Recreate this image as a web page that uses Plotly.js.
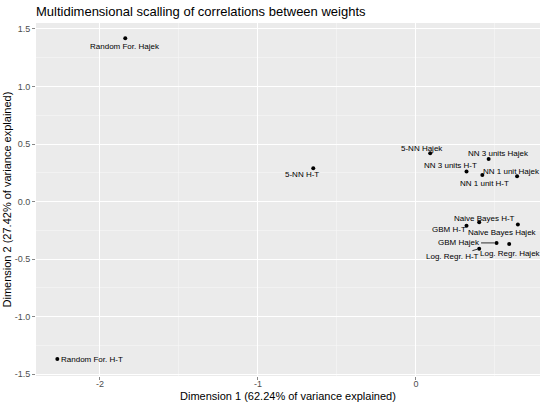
<!DOCTYPE html>
<html><head><meta charset="utf-8">
<script src="https://cdn.plot.ly/plotly-3.0.1.min.js"></script>
<style>html,body{margin:0;padding:0;background:#fff}#chart{width:550px;height:407px}</style>
</head><body><div id="chart"></div>
<script>
var labels = ["Random For. Hajek","Random For. H-T","5-NN H-T","5-NN Hajek","NN 3 units Hajek","NN 3 units H-T","NN 1 unit Hajek","NN 1 unit H-T","Naive Bayes H-T","GBM H-T","Naive Bayes Hajek","GBM Hajek","Log. Regr. Hajek","Log. Regr. H-T"];
var dim1 = [-1.84,-2.27,-0.65,0.09,0.46,0.32,0.64,0.42,0.40,0.32,0.645,0.51,0.59,0.40];
var dim2 = [1.42,-1.37,0.29,0.42,0.37,0.26,0.22,0.23,-0.18,-0.21,-0.20,-0.36,-0.37,-0.41];
var xTicks = [-2,-1,0];
var yTicks = [-1.5,-1.0,-0.5,0.0,0.5,1.0,1.5];
var xTitle = 'Dimension 1 (62.24% of variance explained)';
var yTitle = 'Dimension 2 (27.42% of variance explained)';

// label placement (pixel offsets, style only)
var place = [
  {dx:0,dy:-8},{dx:2,dy:0,anchor:'left'},{dx:-11,dy:-6},{dx:-8,dy:5},
  {dx:10,dy:5},{dx:-16,dy:6},{dx:-6,dy:5},{dx:2,dy:-8},
  {dx:5,dy:4},{dx:-18,dy:-4},{dx:-15,dy:-8},{dx:-38,dy:0,arrow:true},
  {dx:1,dy:-9},{dx:-27,dy:-8,arrow:true}
];
var fam = 'Liberation Sans, Arial, sans-serif';
var lblFont = {family:fam, size:8, color:'#000'};
var annotations = labels.map(function(t,i){
  var p = place[i];
  var a = {x:dim1[i], y:dim2[i], xref:'x', yref:'y', text:t, font:lblFont};
  if (p.arrow) {
    a.showarrow = true; a.arrowhead = 0; a.arrowwidth = 0.8; a.arrowcolor = '#000';
    a.ax = p.dx; a.ay = -p.dy; a.standoff = 2;
  } else {
    a.showarrow = false; a.xshift = p.dx; a.yshift = p.dy;
    a.xanchor = p.anchor || 'center'; a.yanchor = 'middle';
  }
  return a;
});
annotations.push({x:0.5, y:0, xref:'paper', yref:'paper', xanchor:'center', yanchor:'top',
  yshift:-12, showarrow:false, text:xTitle, font:{family:fam, size:11, color:'#000'}});
annotations.push({x:0, y:0.5, xref:'paper', yref:'paper', xanchor:'right', yanchor:'middle',
  xshift:-22, textangle:-90, showarrow:false, text:yTitle, font:{family:fam, size:11, color:'#000'}});

var trace = {x:dim1, y:dim2, mode:'markers', type:'scatter', text:labels,
  marker:{color:'#000', size:4}, hoverinfo:'text'};

var axisCommon = {
  showgrid:true, gridcolor:'#ffffff', gridwidth:1, zeroline:false,
  ticks:'outside', ticklen:3, tickcolor:'#555', tickwidth:0.7,
  tickfont:{family:fam, size:9, color:'#4d4d4d'},
  showline:false
};
var layout = {
  width:550, height:407,
  margin:{l:36, r:10, t:23, b:31},
  paper_bgcolor:'#ffffff', plot_bgcolor:'#ebebeb',
  showlegend:false,
  title:{text:'Multidimensional scalling of correlations between weights', x:0.0655, xanchor:'left', y:0.972, yanchor:'middle',
    font:{family:fam, size:13, color:'#000'}},
  xaxis: Object.assign({}, axisCommon, {
    range:[-2.405,0.785], tickvals:xTicks, ticktext:xTicks.map(String),
    ticklabelstandoff:-4,
    minor:{tickvals:[-2.5,-1.5,-0.5,0.5], showgrid:true, gridcolor:'#f7f7f7', gridwidth:0.6, ticks:''}
  }),
  yaxis: Object.assign({}, axisCommon, {
    range:[-1.517,1.552], tickvals:yTicks, ticktext:yTicks.map(function(v){return v.toFixed(1);}),
    ticklabelstandoff:0,
    minor:{tickvals:[-1.25,-0.75,-0.25,0.25,0.75,1.25], showgrid:true, gridcolor:'#f7f7f7', gridwidth:0.6, ticks:''}
  }),
  annotations: annotations
};
Plotly.newPlot('chart', [trace], layout, {displayModeBar:false, staticPlot:true});
</script>
</body></html>
